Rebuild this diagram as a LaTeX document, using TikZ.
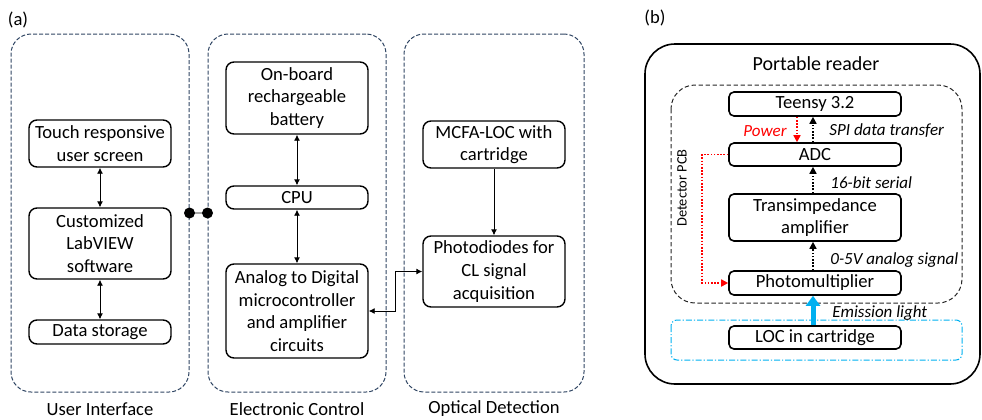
\documentclass[tikz,border=0pt]{standalone}
\usepackage{fontspec}
\setmainfont{Carlito}
\usetikzlibrary{arrows.meta}
\definecolor{frameblue}{RGB}{47,69,99}
\definecolor{lightblue}{RGB}{0,176,240}
\definecolor{powerred}{RGB}{255,0,0}
\tikzset{panel/.style={draw=frameblue, dash pattern=on 2pt off 1pt, rounded corners=10pt, line width=0.5pt, minimum width=89pt, minimum height=179pt, inner sep=0pt},
blockA/.style={draw, rounded corners=4pt, line width=0.7pt, minimum width=71pt, align=center, inner sep=1pt, font=\fontsize{9.3}{11.3}\selectfont},
blockB/.style={draw, rounded corners=2.5pt, line width=0.8pt, minimum width=86pt, align=center, inner sep=1pt, font=\fontsize{9.3}{11.3}\selectfont},
caption/.style={font=\fontsize{9.3}{11.3}\selectfont, inner sep=0pt},
twoway/.style={{Latex[length=3pt,width=3pt]}-{Latex[length=3pt,width=3pt]}, line width=0.45pt},
oneway/.style={-{Latex[length=3pt,width=3pt]}, line width=0.45pt},
sig/.style={dash pattern=on 0.8pt off 0.8pt, line width=0.8pt, -{Triangle[length=3.5pt,width=3.5pt]}},
note/.style={font=\itshape\fontsize{8.5}{10}\selectfont, inner sep=0pt}}

\begin{document}
\begin{tikzpicture}[x=0.5pt,y=-0.5pt]
\useasboundingbox (0,0) rectangle (982,419);
%\draw [help lines, step=50] (0,0) grid (982,419);

% (a) three groups
\node[caption] (tagA) at (18,20) {(a)};
\node[panel] (ui) at (100,213) {};
\node[panel] (ec) at (297,213) {};
\node[panel, minimum width=90pt] (od) at (494,213) {};
\node[caption] (uiname) at (100,409) {User Interface};
\node[caption] (ecname) at (297,409) {Electronic Control};
\node[caption] (odname) at (494,409) {Optical Detection};

% User Interface
\node[blockA, minimum height=23.5pt] (touch) at (100,143.5) {Touch responsive\\user screen};
\node[blockA, minimum height=35.5pt] (labview) at (100,243.5) {Customized\\LabVIEW\\software};
\node[blockA, minimum height=12pt] (storage) at (100,332) {Data storage};
\draw[twoway] (touch) -- (labview);
\draw[twoway] (labview) -- (storage);

% Electronic Control
\node[blockA, minimum height=36pt] (battery) at (297,98) {On-board\\rechargeable\\battery};
\node[blockA, minimum height=11.5pt] (cpu) at (297,197.5) {CPU};
\node[blockA, minimum height=47pt] (adcA) at (297,311) {Analog to Digital\\microcontroller\\and amplifier\\circuits};
\draw[twoway] (battery) -- (cpu);
\draw[twoway] (cpu) -- (adcA);

% Optical Detection
\node[blockA, minimum height=23.5pt] (mcfa) at (494,144.5) {MCFA-LOC with\\cartridge};
\node[blockA, minimum height=35.5pt] (diodes) at (494,271.5) {Photodiodes for\\CL signal\\acquisition};
\draw[oneway] (mcfa) -- (diodes);
\draw[twoway] (adcA.east) -- ++(27,0) |- (diodes.west);

% link between groups
\draw[gray!70, line width=0.6pt] (ui.east) -- (ec.west);
\foreach \p in {ui.east,ec.west}
     \fill (\p) circle (5.5);

% (b) portable reader
\node[caption] (tagB) at (655,18) {(b)};
\draw[line width=0.8pt, rounded corners=15pt] (645,44) rectangle (980,384);
\node[caption, font=\fontsize{10}{12}\selectfont] (reader) at (816,64) {Portable reader};
\draw[black!85, dash pattern=on 2.2pt off 1.3pt, line width=0.5pt, rounded corners=12pt] (671,85) rectangle (962,303);
\node[caption, font=\fontsize{7.2}{9}\selectfont, rotate=90] (pcb) at (682,188) {Detector PCB};
\draw[lightblue, line width=0.5pt, dash pattern=on 3pt off 1pt on 0.6pt off 1pt, rounded corners=3pt] (671,320) rectangle (962,360);

\node[blockB, minimum height=12pt] (teensy) at (815,104) {Teensy 3.2};
\node[blockB, minimum height=11.5pt] (adcB) at (815,154.5) {ADC};
\node[blockB, minimum height=23.5pt] (tia) at (815,217.5) {Transimpedance\\amplifier};
\node[blockB, minimum height=12pt] (pmt) at (815,283) {Photomultiplier};
\node[blockB, minimum height=11.5pt] (loc) at (815,337.5) {LOC in cartridge};

% signals
\draw[sig, powerred] ([xshift=-9pt]teensy.south) -- ([xshift=-9pt]adcB.north);
\draw[sig] ([xshift=-1pt]adcB.north) -- ([xshift=-1pt]teensy.south);
\draw[sig] ([xshift=-1pt]tia.north) -- ([xshift=-1pt]adcB.south);
\draw[sig] ([xshift=-1pt]pmt.north) -- ([xshift=-1pt]tia.south);
\draw[sig, powerred] (adcB.west) -- ++(-26,0) |- (pmt.west);
\draw[lightblue, line width=2.5pt, -{Triangle[length=5pt,width=7pt]}] ([xshift=-1pt]loc.north) -- ([xshift=-1pt]pmt.south);

\node[note, anchor=east, text=powerred] (power) at (787,131) {Power};
\node[note, anchor=west] (spi) at (829,131) {SPI data transfer};
\node[note, anchor=west] (serial) at (830,183) {16-bit serial};
\node[note, anchor=west] (analog) at (830,260) {0-5V analog signal};
\node[note, anchor=west] (emission) at (832,313) {Emission light};

\end{tikzpicture}
\end{document}
